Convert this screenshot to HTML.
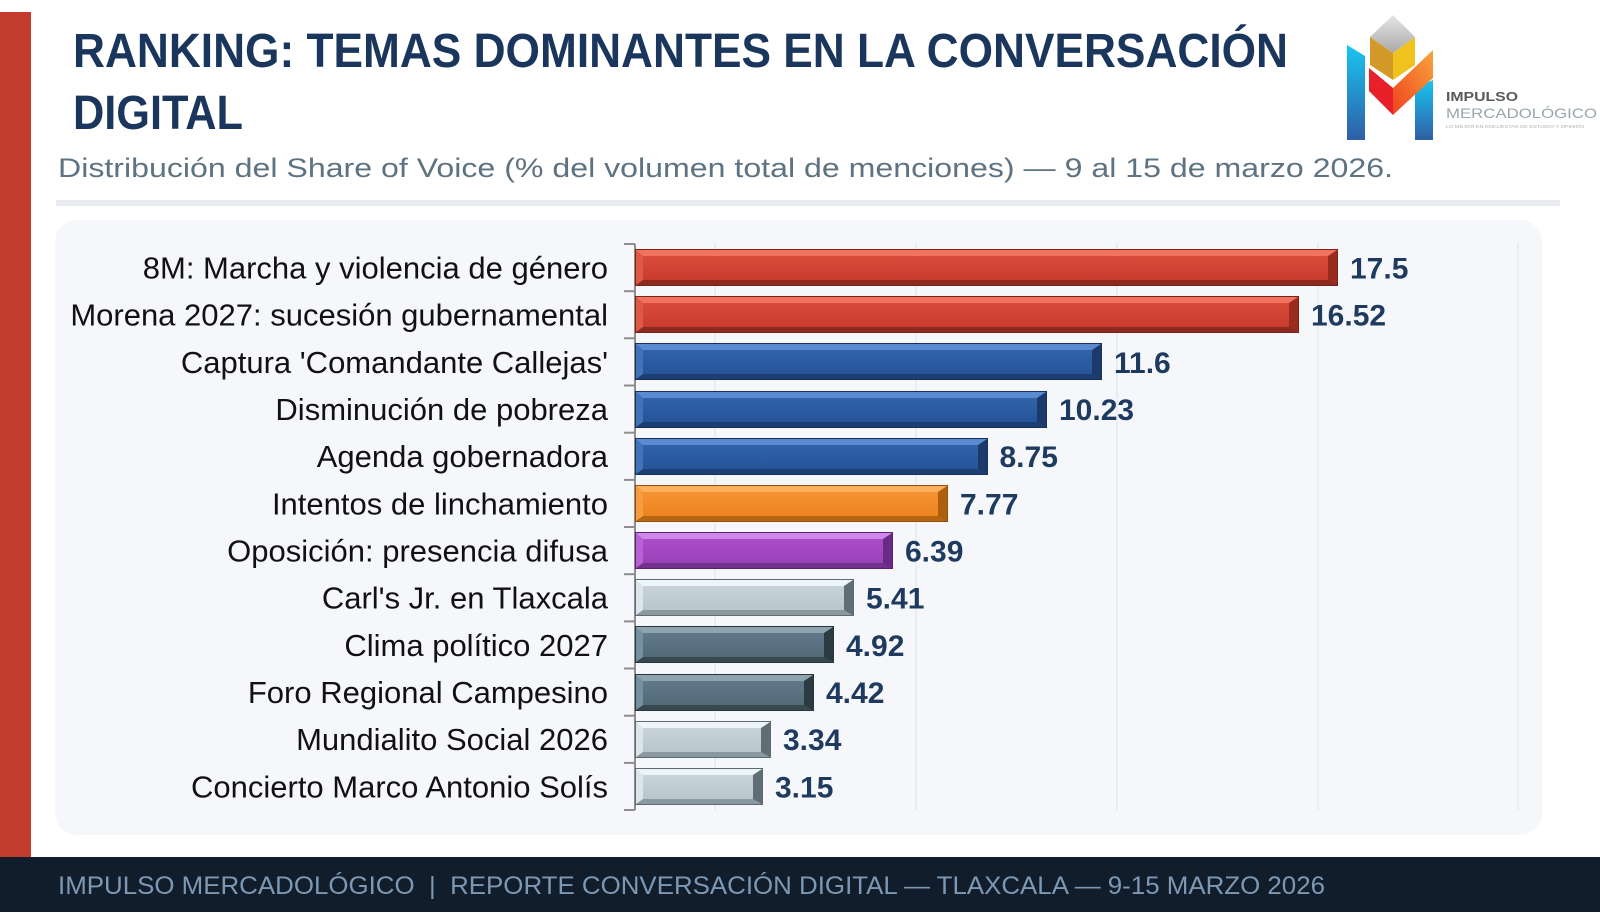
<!DOCTYPE html>
<html>
<head>
<meta charset="utf-8">
<style>
  html,body{margin:0;padding:0;}
  body{width:1600px;height:922px;overflow:hidden;background:#ffffff;position:relative;font-family:"Liberation Sans",Arial,sans-serif;}
  svg{position:absolute;left:0;top:0;}
  .bar{position:absolute;left:636px;height:35px;box-sizing:border-box;border-style:solid;border-width:6px 9px 5px 7px;}
  .red{border-color:#f27260 #9a2b1f #8c2a1f #de5846;background:linear-gradient(#d94b39,#c93b2d);box-shadow:0 0 0 1px #7a2419;}
  .blue{border-color:#5a8ad0 #1b3a6a #1d3f74 #4272b8;background:linear-gradient(#3063a8,#26549a);box-shadow:0 0 0 1px #17315a;}
  .orange{border-color:#fbb060 #ad5f0e #b5650f #f69c40;background:linear-gradient(#f59232,#ed8420);box-shadow:0 0 0 1px #94500c;}
  .purple{border-color:#cf88ea #692a85 #70308c #b860d4;background:linear-gradient(#aa4ec8,#9b41b8);box-shadow:0 0 0 1px #5a2270;}
  .light{border-color:#eef5f8 #5f6d75 #8a98a0 #dbe5ea;background:linear-gradient(#c8d4da,#b9c6cd);box-shadow:0 0 0 1px #5f6b72;}
  .slate{border-color:#8ea5b0 #2c3a42 #38484f #7590a0;background:linear-gradient(#60788a,#536a77);box-shadow:0 0 0 1px #28363d;}
</style>
</head>
<body>
<svg width="1600" height="922" viewBox="0 0 1600 922" xmlns="http://www.w3.org/2000/svg">
  <defs>
    <linearGradient id="pil" x1="0" y1="0" x2="0" y2="1">
      <stop offset="0" stop-color="#18c6f2"/>
      <stop offset="1" stop-color="#2f5ea6"/>
    </linearGradient>
    <linearGradient id="org" x1="0" y1="1" x2="1" y2="0">
      <stop offset="0" stop-color="#f0421e"/>
      <stop offset="1" stop-color="#f7a43c"/>
    </linearGradient>
    <linearGradient id="sil" x1="0" y1="0" x2="0" y2="1">
      <stop offset="0" stop-color="#e6e6e6"/>
      <stop offset="1" stop-color="#a9a9a9"/>
    </linearGradient>
  </defs>

  <!-- left red bar -->
  <rect x="0" y="12" width="31" height="846" fill="#c23b2e"/>

  <!-- title -->
  <text x="73" y="67" font-family="Liberation Sans, Arial, sans-serif" font-weight="bold" font-size="48" fill="#1b365d" textLength="1215" lengthAdjust="spacingAndGlyphs">RANKING: TEMAS DOMINANTES EN LA CONVERSACIÓN</text>
  <text x="73" y="129" font-family="Liberation Sans, Arial, sans-serif" font-weight="bold" font-size="48" fill="#1b365d" textLength="170" lengthAdjust="spacingAndGlyphs">DIGITAL</text>

  <!-- subtitle -->
  <text x="58" y="177" font-family="Liberation Sans, Arial, sans-serif" font-size="27" fill="#5e7381" textLength="1335" lengthAdjust="spacingAndGlyphs">Distribución del Share of Voice (% del volumen total de menciones) — 9 al 15 de marzo 2026.</text>

  <!-- separator -->
  <rect x="56" y="200" width="1504" height="6" fill="#e9ecf1"/>

  <!-- logo -->
  <polygon points="1347,45 1365,56 1365,140 1347,140" fill="url(#pil)"/>
  <polygon points="1415,88 1433,80 1433,140 1415,140" fill="url(#pil)"/>
  <polygon points="1369,68 1393,88 1393,115 1369,91" fill="#e8202a"/>
  <polygon points="1393,88 1433,50 1433,78 1393,115" fill="url(#org)"/>
  <polygon points="1370,37 1393,15 1415,37 1393,53" fill="url(#sil)"/>
  <polygon points="1370,37 1393,53 1393,80 1370,65" fill="#d39a2a"/>
  <polygon points="1393,53 1415,37 1415,65 1393,80" fill="#f0c21e"/>
  <text x="1446" y="101" font-family="Liberation Sans, Arial, sans-serif" font-weight="bold" font-size="13" fill="#5a5a5a" textLength="72" lengthAdjust="spacingAndGlyphs">IMPULSO</text>
  <text x="1446" y="118" font-family="Liberation Sans, Arial, sans-serif" font-size="14" fill="#9aa6ad" textLength="151" lengthAdjust="spacingAndGlyphs">MERCADOLÓGICO</text>
  <text x="1446" y="128" font-family="Liberation Sans, Arial, sans-serif" font-size="4.5" fill="#b0b0b0" textLength="138" lengthAdjust="spacingAndGlyphs">LO MEJOR EN ENCUESTAS DE ESTUDIO Y OPINIÓN</text>

  <!-- chart panel -->
  <rect x="55" y="220" width="1487" height="615" rx="22" ry="22" fill="#f5f7fb"/>

  <!-- gridlines -->
  <g stroke="#e1e5ec" stroke-width="1.2">
    <line x1="715" y1="243" x2="715" y2="810"/>
    <line x1="916" y1="243" x2="916" y2="810"/>
    <line x1="1117" y1="243" x2="1117" y2="810"/>
    <line x1="1318" y1="243" x2="1318" y2="810"/>
    <line x1="1518" y1="243" x2="1518" y2="810"/>
  </g>

  <!-- axis and ticks -->
  <g stroke="#8e8e8e" stroke-width="2">
    <line x1="635" y1="244" x2="635" y2="810"/>
    <line x1="624" y1="244" x2="635" y2="244"/>
    <line x1="624" y1="291.2" x2="635" y2="291.2"/>
    <line x1="624" y1="338.3" x2="635" y2="338.3"/>
    <line x1="624" y1="385.5" x2="635" y2="385.5"/>
    <line x1="624" y1="432.7" x2="635" y2="432.7"/>
    <line x1="624" y1="479.9" x2="635" y2="479.9"/>
    <line x1="624" y1="527" x2="635" y2="527"/>
    <line x1="624" y1="574.2" x2="635" y2="574.2"/>
    <line x1="624" y1="621.4" x2="635" y2="621.4"/>
    <line x1="624" y1="668.5" x2="635" y2="668.5"/>
    <line x1="624" y1="715.7" x2="635" y2="715.7"/>
    <line x1="624" y1="762.9" x2="635" y2="762.9"/>
    <line x1="624" y1="810" x2="635" y2="810"/>
  </g>

  <!-- category labels -->
  <g font-family="Liberation Sans, Arial, sans-serif" font-size="31" fill="#111111" text-anchor="end">
    <text x="608" y="278.5">8M: Marcha y violencia de género</text>
    <text x="608" y="325.7">Morena 2027: sucesión gubernamental</text>
    <text x="608" y="372.8">Captura 'Comandante Callejas'</text>
    <text x="608" y="420">Disminución de pobreza</text>
    <text x="608" y="467.2">Agenda gobernadora</text>
    <text x="608" y="514.4">Intentos de linchamiento</text>
    <text x="608" y="561.5">Oposición: presencia difusa</text>
    <text x="608" y="608.7">Carl's Jr. en Tlaxcala</text>
    <text x="608" y="655.9">Clima político 2027</text>
    <text x="608" y="703">Foro Regional Campesino</text>
    <text x="608" y="750.2">Mundialito Social 2026</text>
    <text x="608" y="797.4">Concierto Marco Antonio Solís</text>
  </g>

  <!-- value labels -->
  <g font-family="Liberation Sans, Arial, sans-serif" font-size="30" font-weight="bold" fill="#1f3a5f">
    <text x="1350" y="278.5">17.5</text>
    <text x="1311" y="325.7">16.52</text>
    <text x="1114" y="372.8">11.6</text>
    <text x="1059" y="420">10.23</text>
    <text x="999.5" y="467.2">8.75</text>
    <text x="960" y="514.4">7.77</text>
    <text x="905" y="561.5">6.39</text>
    <text x="866" y="608.7">5.41</text>
    <text x="846" y="655.9">4.92</text>
    <text x="826" y="703">4.42</text>
    <text x="783" y="750.2">3.34</text>
    <text x="775" y="797.4">3.15</text>
  </g>

  <!-- footer -->
  <rect x="0" y="857" width="1600" height="55" fill="#121d2c"/>
  <text x="58" y="894" xml:space="preserve" font-family="Liberation Sans, Arial, sans-serif" font-size="25" fill="#7d98b3" textLength="1267" lengthAdjust="spacingAndGlyphs">IMPULSO MERCADOLÓGICO  |  REPORTE CONVERSACIÓN DIGITAL — TLAXCALA — 9-15 MARZO 2026</text>
</svg>

<div class="bar red" style="top:250px;width:701px"></div>
<div class="bar red" style="top:297.2px;width:662px"></div>
<div class="bar blue" style="top:344.3px;width:465px"></div>
<div class="bar blue" style="top:391.5px;width:410px"></div>
<div class="bar blue" style="top:438.7px;width:350.5px"></div>
<div class="bar orange" style="top:485.9px;width:311px"></div>
<div class="bar purple" style="top:533px;width:256px"></div>
<div class="bar light" style="top:580.2px;width:217px"></div>
<div class="bar slate" style="top:627.4px;width:197px"></div>
<div class="bar slate" style="top:674.5px;width:177px"></div>
<div class="bar light" style="top:721.7px;width:134px"></div>
<div class="bar light" style="top:768.9px;width:126px"></div>
</body>
</html>
